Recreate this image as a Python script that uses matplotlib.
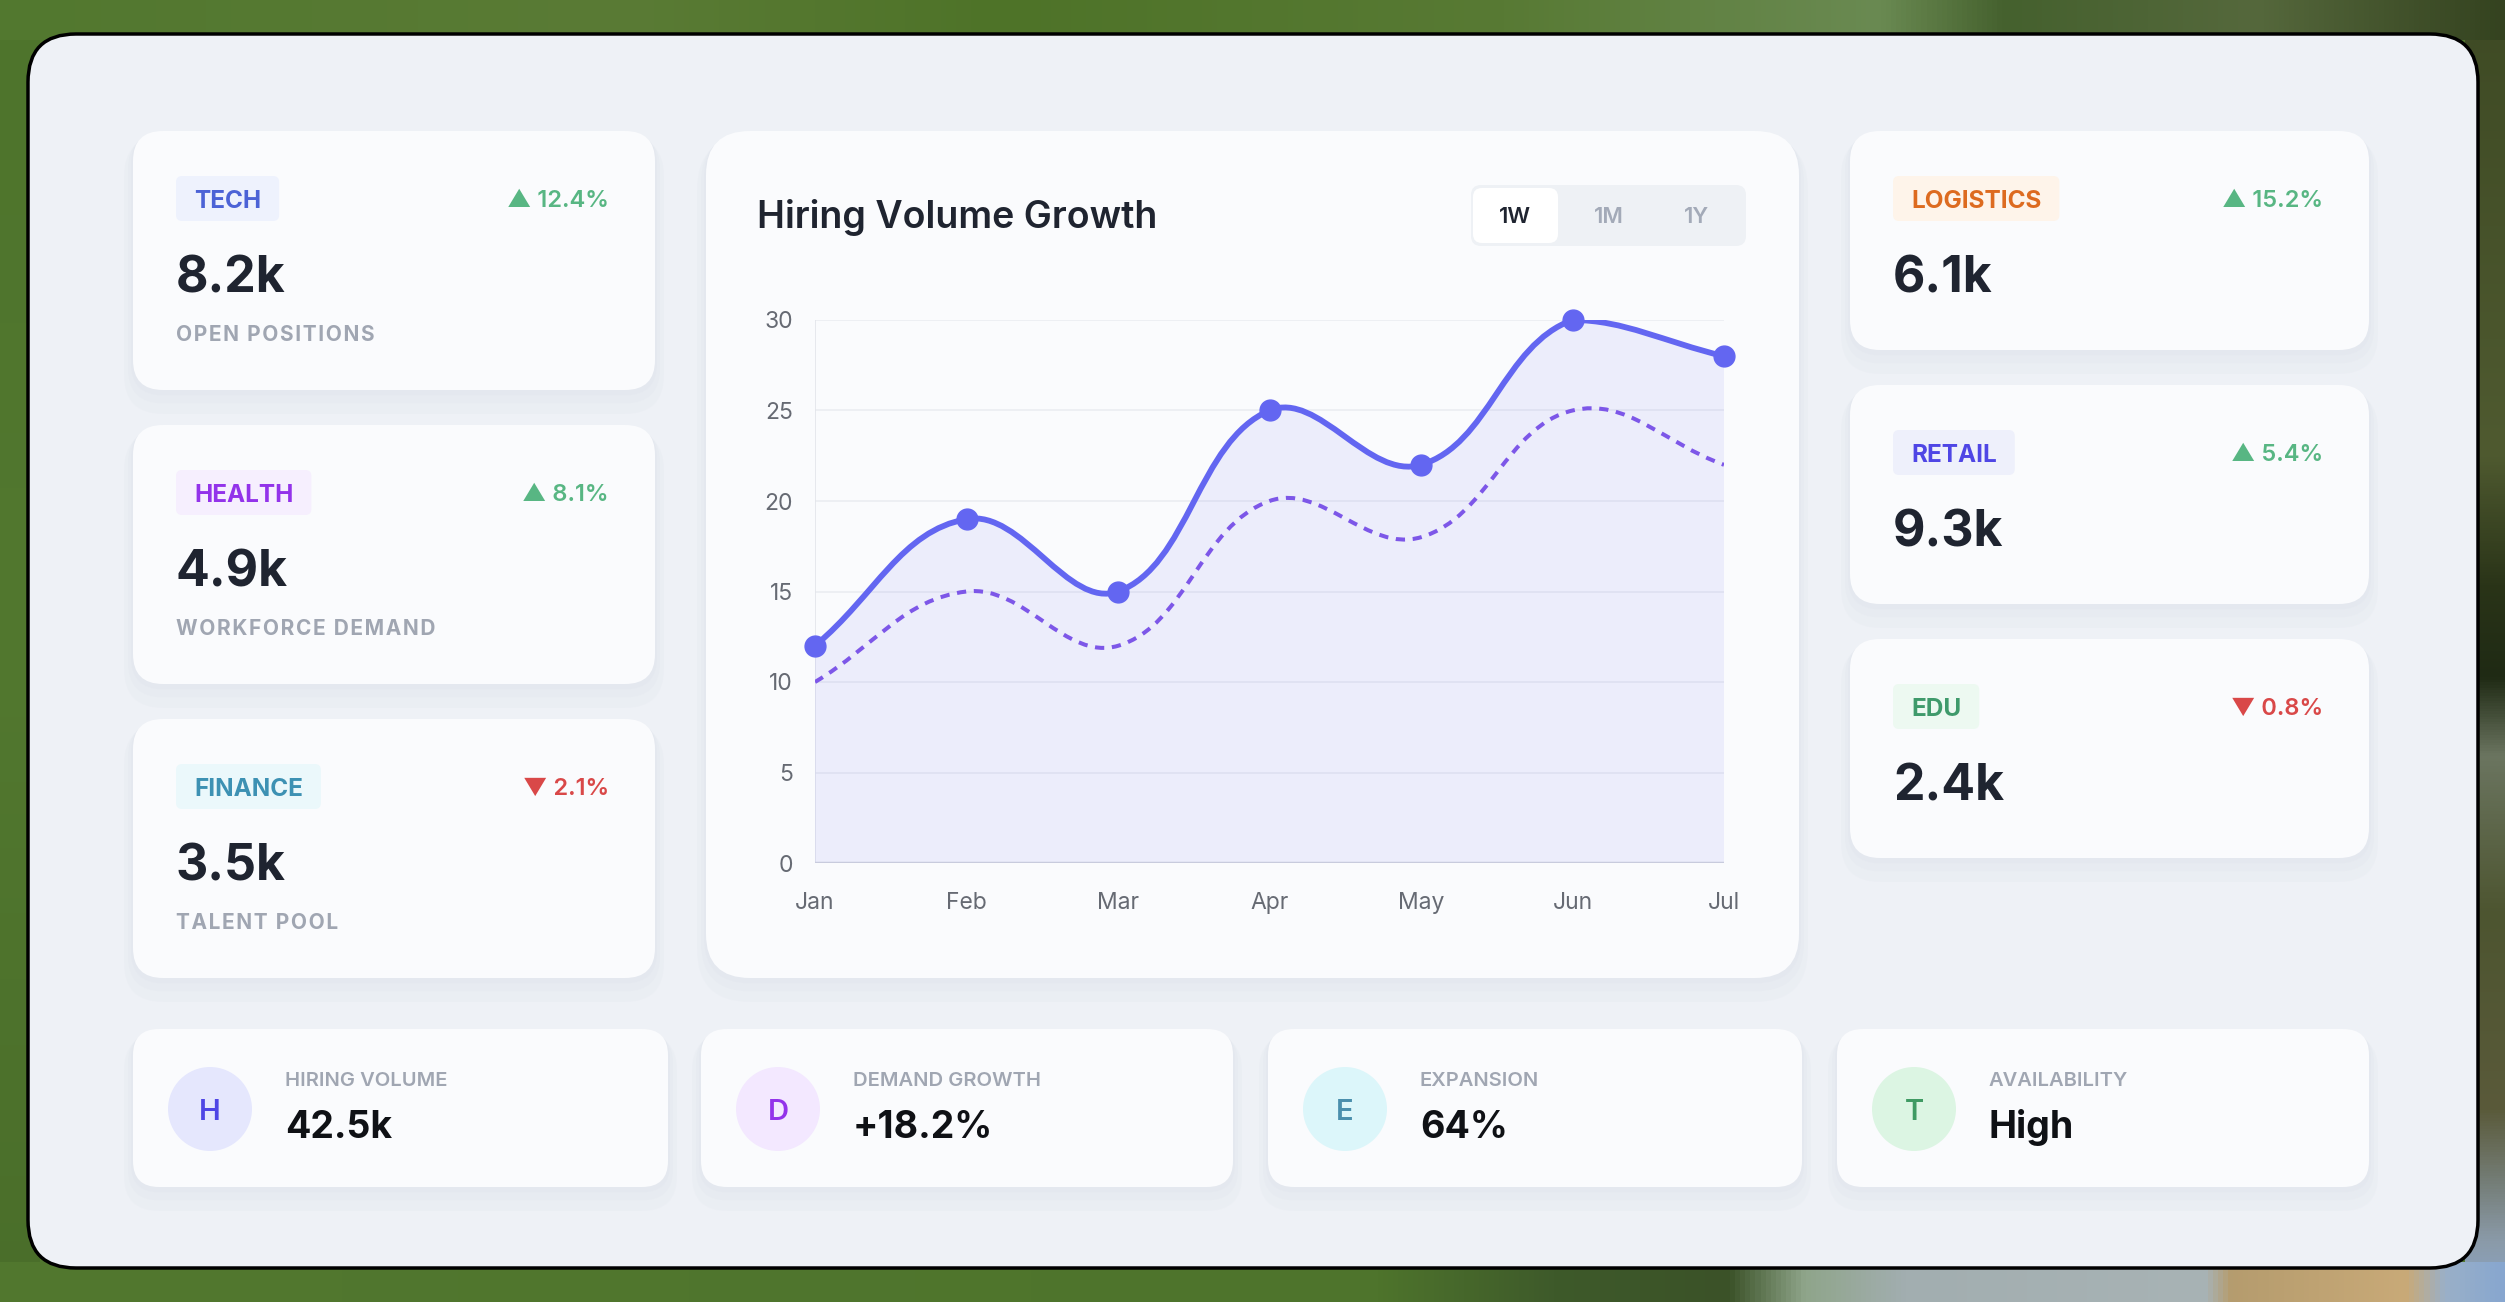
import numpy as np
import matplotlib
matplotlib.use("Agg")
import matplotlib.pyplot as plt
from matplotlib.colors import to_rgb
from matplotlib.patches import FancyBboxPatch, Circle, PathPatch
from matplotlib.path import Path

W, H = 2505, 1302

# chart data
months = ["Jan", "Feb", "Mar", "Apr", "May", "Jun", "Jul"]
hiring = [12, 19, 15, 25, 22, 30, 28]
demand = [10, 15, 12, 20, 18, 25, 22]
y_ticks = [0, 5, 10, 15, 20, 25, 30]
periods = ["1W", "1M", "1Y"]

# sector cards
sector_tags = ["TECH", "HEALTH", "FINANCE", "LOGISTICS", "RETAIL", "EDU"]
sector_values = ["8.2k", "4.9k", "3.5k", "6.1k", "9.3k", "2.4k"]
sector_changes = [12.4, 8.1, -2.1, 15.2, 5.4, -0.8]
sector_notes = ["OPEN POSITIONS", "WORKFORCE DEMAND", "TALENT POOL", "", "", ""]

# summary strip
summary_labels = ["HIRING VOLUME", "DEMAND GROWTH", "EXPANSION", "AVAILABILITY"]
summary_values = ["42.5k", "+18.2%", "64%", "High"]
summary_initials = ["H", "D", "E", "T"]

tag_colors = [("#4c63d6", "#eef2fd"), ("#9333ea", "#f6effe"), ("#3d91b3", "#ebf8fb"),
              ("#dd6b20", "#fef4ea"), ("#4f46e5", "#eef0fb"), ("#3f9a6b", "#edf9f1")]
icon_colors = [("#4f46e5", "#e5e7fd"), ("#9333ea", "#f3e8ff"),
               ("#4a8fad", "#dcf6fa"), ("#3f9a63", "#dcf5e3")]
UP, DOWN = "#58b683", "#d94848"
DARK, GREY = "#1f2430", "#a0a6b2"

plt.rcParams['font.family'] = ['Inter', 'DejaVu Sans']

fig = plt.figure(figsize=(W / 100, H / 100), dpi=100)
fig.patch.set_facecolor("#52782f")
bg = fig.add_axes([0, 0, 1, 1])
bg.axis("off")


def strip(stops, extent, vertical=False):
    # blurred photo behind the panel, as a colour ramp
    pos = np.linspace(0, 1, 500)
    at = np.array([s[0] for s in stops])
    cols = np.array([to_rgb(s[1]) for s in stops])
    ramp = np.stack([np.interp(pos, at, cols[:, c]) for c in range(3)], axis=-1)
    img = ramp[:, None, :] if vertical else ramp[None, :, :]
    bg.imshow(img, extent=extent, aspect="auto", interpolation="nearest", zorder=0)


strip([(0, "#4e742c"), (0.5, "#52782f"), (1, "#4a6e2a")], (-5, 40, H + 5, -5), vertical=True)
strip([(0, "#3e4a24"), (0.35, "#4f5a30"), (0.45, "#2a3418"), (0.52, "#1f2a14"),
       (0.58, "#6b7560"), (0.7, "#4d5530"), (0.85, "#5a5a3a"), (0.95, "#8a9aa8"),
       (1, "#8aa8cc")], (2465, W + 5, H + 5, -5), vertical=True)
strip([(0, "#52782f"), (0.25, "#5a7b35"), (0.4, "#4e7328"), (0.6, "#587a34"),
       (0.75, "#6a8a52"), (0.8, "#45612e"), (0.9, "#55683c"), (1, "#34421f")],
      (-5, W + 5, 40, -5))
strip([(0, "#52782f"), (0.55, "#4e742c"), (0.62, "#3e5a2a"), (0.69, "#3b5228"),
       (0.72, "#8fa58a"), (0.76, "#a2aeb0"), (0.88, "#a8b3b5"), (0.89, "#b59c6e"),
       (0.96, "#c9aa78"), (0.975, "#9ab0c8"), (1, "#86a6d0")],
      (-5, W + 5, H + 5, 1262))
bg.set_xlim(0, W)
bg.set_ylim(H, 0)


def rbox(x, y, w, h, r, fc, ec="none", lw=0, z=1, alpha=1.0):
    p = FancyBboxPatch((x, y), w, h, boxstyle=f"round,pad=0,rounding_size={r}",
                       fc=fc, ec=ec, lw=lw, zorder=z, alpha=alpha)
    bg.add_patch(p)
    return p


def card(x, y, w, h, r=30):
    for k, a in [(18, 0.25), (10, 0.35), (4, 0.5)]:
        rbox(x - k / 2, y + k / 3, w + k, h + k, r + k / 2, "#e2e6ee", z=1, alpha=a)
    rbox(x, y, w, h, r, "#fafbfd", z=2)


# main panel
rbox(28, 34, 2450, 1234, 48, "#eef1f6", ec="#000000", lw=2.5, z=0.5)

renderer = fig.canvas.get_renderer()


def sector_card(i, x, y, w, h):
    card(x, y, w, h)
    tc, tb = tag_colors[i]
    t = bg.text(x + 61, y + 70, sector_tags[i], color=tc, fontsize=17.5,
                fontweight="bold", ha="left", va="center", zorder=4)
    ext = t.get_window_extent(renderer)
    rbox(x + 43, y + 45, ext.width + 36, 45, 6, tb, z=3)
    ch = sector_changes[i]
    sym = "\u25B2" if ch > 0 else "\u25BC"
    bg.text(x + w - 46, y + 70, f"{sym} {abs(ch):.1f}%", color=UP if ch > 0 else DOWN,
            fontsize=17, fontweight="semibold", ha="right", va="center", zorder=4)
    bg.text(x + 43, y + 148, sector_values[i], color=DARK, fontsize=36,
            fontweight="bold", ha="left", va="center", zorder=4)
    if sector_notes[i]:
        bg.text(x + 43, y + 204, "\u200a".join(sector_notes[i]), color=GREY, fontsize=15,
                fontweight="bold", ha="left", va="center", zorder=4)


for j in range(3):
    sector_card(j, 133, 131 + j * 294, 522, 259)
for j in range(3):
    sector_card(3 + j, 1850, 131 + j * 254, 519, 219)

# chart card
card(706, 131, 1093, 847, r=44)
bg.text(757, 217, "Hiring Volume Growth", color=DARK, fontsize=27,
        fontweight="semibold", ha="left", va="center", zorder=4)
rbox(1471, 185, 275, 61, 10, "#eef1f5", z=3)
rbox(1473, 188, 85, 55, 9, "#ffffff", z=3.5)
for lab, cx in zip(periods, [1515, 1609, 1697]):
    bg.text(cx, 217, lab, color=DARK if lab == "1W" else "#a3aab8", fontsize=16,
            fontweight="semibold", ha="center", va="center", zorder=4)

# summary strip
sx = [133, 701, 1268, 1837]
sw = [535, 532, 534, 532]
for k in range(4):
    card(sx[k], 1029, sw[k], 158, r=26)
    fcol, bcol = icon_colors[k]
    bg.add_patch(Circle((sx[k] + 77, 1109), 42, fc=bcol, ec="none", zorder=3))
    bg.text(sx[k] + 77, 1112, summary_initials[k], color=fcol, fontsize=21,
            fontweight="semibold", ha="center", va="center", zorder=4)
    bg.text(sx[k] + 152, 1081, summary_labels[k], color=GREY, fontsize=14.5,
            fontweight="semibold", ha="left", va="center", zorder=4)
    bg.text(sx[k] + 152, 1128, summary_values[k], color="#0f1115", fontsize=27,
            fontweight="bold", ha="left", va="center", zorder=4)

# line chart
x0, x1, y0, y1 = 815, 1724, 863, 320
ax = fig.add_axes([x0 / W, 1 - y0 / H, (x1 - x0) / W, (y0 - y1) / H], zorder=5)
ax.patch.set_alpha(0)
ax.set_xlim(0, len(months) - 1)
ax.set_ylim(0, 30)


def spline_path(vals, tension=0.4):
    pts = ax.transData.transform(np.column_stack([np.arange(len(vals)), vals]))
    lo = ax.transData.transform((0, 0))
    hi = ax.transData.transform((len(vals) - 1, 30))
    n = len(pts)
    cps = []
    for i in range(n):
        p0 = pts[max(i - 1, 0)]
        p1 = pts[i]
        p2 = pts[min(i + 1, n - 1)]
        d01 = np.hypot(*(p1 - p0))
        d12 = np.hypot(*(p2 - p1))
        s01 = d01 / (d01 + d12)
        s12 = d12 / (d01 + d12)
        prev = np.clip(p1 - tension * s01 * (p2 - p0), lo, hi)
        nxt = np.clip(p1 + tension * s12 * (p2 - p0), lo, hi)
        cps.append((prev, nxt))
    verts = [pts[0]]
    codes = [Path.MOVETO]
    for i in range(n - 1):
        verts += [cps[i][1], cps[i + 1][0], pts[i + 1]]
        codes += [Path.CURVE4] * 3
    inv = ax.transData.inverted()
    return inv.transform(np.array(verts)), codes


for yt in y_ticks[1:]:
    ax.axhline(yt, color="#eceef2", lw=1.3, zorder=1)
ax.axvline(0, color="#e3e5ea", lw=1.2, zorder=1)
ax.axhline(0, color="#d3d6dc", lw=2.5, zorder=2)

hv, hc = spline_path(hiring)
tail = np.array([[len(months) - 1, 0], [0, 0], hv[0]])
fill_v = np.vstack([hv, tail])
fill_c = hc + [Path.LINETO, Path.LINETO, Path.CLOSEPOLY]
ax.add_patch(PathPatch(Path(fill_v, fill_c), fc="#6366f1", alpha=0.09, ec="none", zorder=2))
ax.add_patch(PathPatch(Path(hv, hc), fc="none", ec="#6366f1", lw=4.2, zorder=4,
                       capstyle="round", joinstyle="round"))

dv, dc = spline_path(demand)
ax.add_patch(PathPatch(Path(dv, dc), fc="none", ec="#7d57e8", lw=2.9, zorder=3,
                       linestyle=(0, (2.3, 1.9))))
ax.plot(range(len(months)), hiring, "o", ms=15, color="#6366f1", zorder=6, clip_on=False)

ax.set_yticks(y_ticks)
ax.set_xticks(range(len(months)))
ax.set_xticklabels(months)
ax.tick_params(length=0, labelsize=16.5, labelcolor="#666a73")
ax.tick_params(axis="y", pad=16)
ax.tick_params(axis="x", pad=21)
for s in ax.spines.values():
    s.set_visible(False)

fig.savefig("out.png", dpi=100, facecolor=fig.get_facecolor())
